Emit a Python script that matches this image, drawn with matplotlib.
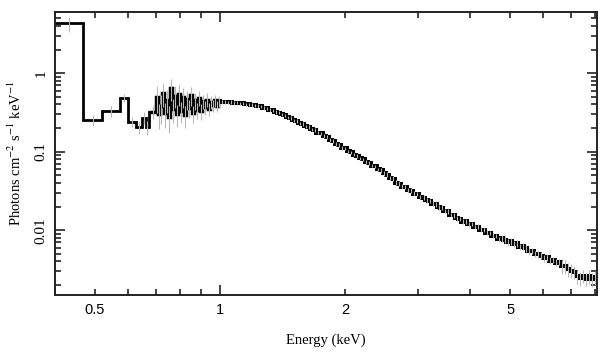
import numpy as np
import matplotlib.pyplot as plt
from matplotlib.ticker import FixedLocator, FuncFormatter, NullFormatter

# coarse low-energy bins (keV) and their flux
coarse_edges = [0.40, 0.468, 0.520, 0.573, 0.601, 0.628, 0.647, 0.662, 0.674, 0.702]
coarse_flux = [4.3, 0.254, 0.33, 0.49, 0.24, 0.207, 0.272, 0.207, 0.32]
coarse_err = [0.22, 0.17, 0.15, 0.12, 0.15, 0.18, 0.17, 0.20, 0.18]

# noisy part 0.70 - 1.0 keV
noisy_flux = [0.50, 0.30, 0.38, 0.56, 0.31, 0.46, 0.28, 0.64, 0.35, 0.52,
              0.30, 0.55, 0.33, 0.50, 0.29, 0.47, 0.36, 0.53, 0.31, 0.45,
              0.34, 0.49, 0.33, 0.44, 0.37, 0.46, 0.35, 0.43, 0.39, 0.45,
              0.38, 0.44]
noisy_err = [0.38, 0.36, 0.40, 0.34, 0.36, 0.33, 0.38, 0.30, 0.34, 0.31,
             0.32, 0.30, 0.30, 0.28, 0.30, 0.27, 0.26, 0.27, 0.25, 0.24,
             0.24, 0.22, 0.23, 0.21, 0.20, 0.20, 0.19, 0.18, 0.17, 0.17,
             0.16, 0.15]

# smooth part 1.0 - 8.1 keV
smooth_flux = [0.429, 0.433, 0.424, 0.428, 0.419, 0.423, 0.414, 0.412, 0.403, 0.401,
               0.392, 0.391, 0.382, 0.378, 0.362, 0.357, 0.341, 0.336, 0.320, 0.315,
               0.298, 0.291, 0.274, 0.268, 0.251, 0.246, 0.231, 0.226, 0.211, 0.206,
               0.193, 0.190, 0.175, 0.172, 0.158, 0.154, 0.141, 0.137, 0.125, 0.122,
               0.112, 0.110, 0.101, 0.0985, 0.0915, 0.0885, 0.0820, 0.0800, 0.0740, 0.0720,
               0.0665, 0.0650, 0.0598, 0.0580, 0.0528, 0.0510, 0.0462, 0.0452, 0.0405, 0.0393,
               0.0360, 0.0355, 0.0324, 0.0320, 0.0293, 0.0290, 0.0265, 0.0260, 0.0240, 0.0236,
               0.0217, 0.0214, 0.0196, 0.0194, 0.0176, 0.0174, 0.0157, 0.0156, 0.0141, 0.0139,
               0.0128, 0.0130, 0.0119, 0.0120, 0.0110, 0.0111, 0.0102, 0.0102, 0.00935, 0.00925,
               0.00850, 0.00845, 0.00770, 0.00790, 0.00760, 0.00700, 0.00720, 0.00670, 0.00680, 0.00615,
               0.00625, 0.00590, 0.00540, 0.00545, 0.00500, 0.00495, 0.00475, 0.00440, 0.00450, 0.00410,
               0.00420, 0.00385, 0.00395, 0.00345, 0.00350, 0.00320, 0.00305, 0.00295, 0.00260, 0.00245,
               0.00262, 0.00240, 0.00258, 0.00238, 0.00250]
smooth_err = [0.05] * 53 + [0.07] * 40 + [0.10] * 20 + [0.20] * 12

x_labels = [0.5, 2, 5]


def main():
    plt.rcParams['mathtext.fontset'] = 'stix'
    noisy_edges = np.geomspace(0.702, 1.0, len(noisy_flux) + 1)
    smooth_edges = np.geomspace(1.0, 8.08, len(smooth_flux) + 1)
    edges = np.concatenate([coarse_edges, noisy_edges[1:], smooth_edges[1:]])
    flux = np.array(coarse_flux + noisy_flux + smooth_flux)
    err = np.array(coarse_err + noisy_err + smooth_err)
    centers = np.sqrt(edges[:-1] * edges[1:])

    fig = plt.figure(figsize=(6.09, 3.57), dpi=100)
    ax = fig.add_axes([0.090, 0.174, 0.890, 0.792])
    ax.vlines(centers, flux * (1 - err), flux * (1 + err), color='#b8b8b8', lw=0.8)
    ax.stairs(coarse_flux, coarse_edges, baseline=None, color='black', lw=2.0)
    # each piece starts with the last bin of the previous one so the steps join up
    ax.stairs([coarse_flux[-1]] + noisy_flux, np.concatenate([[coarse_edges[-2]], noisy_edges]),
              baseline=None, color='black', lw=2.5)
    ax.stairs([noisy_flux[-1]] + smooth_flux, np.concatenate([[noisy_edges[-2]], smooth_edges]),
              baseline=None, color='black', lw=2.9)

    ax.set_xscale('log')
    ax.set_yscale('log')
    ax.set_xlim(0.40, 8.08)
    ax.set_ylim(0.0015, 6)

    ax.xaxis.set_major_locator(FixedLocator([1]))
    ax.xaxis.set_minor_locator(FixedLocator([0.4, 0.5, 0.6, 0.7, 0.8, 0.9, 2, 3, 4, 5, 6, 7, 8]))
    ax.xaxis.set_major_formatter(FuncFormatter(lambda v, p: '1'))
    ax.xaxis.set_minor_formatter(FuncFormatter(lambda v, p: ('%g' % v) if any(abs(v - l) < 1e-6 for l in x_labels) else ''))
    ax.yaxis.set_major_locator(FixedLocator([0.01, 0.1, 1]))
    ax.yaxis.set_major_formatter(FuncFormatter(lambda v, p: '%g' % v))
    ax.yaxis.set_minor_formatter(NullFormatter())

    for sp in ax.spines.values():
        sp.set_linewidth(1.4)
        sp.set_color('#222222')
    ax.tick_params(which='both', direction='in', top=True, right=True, color='#222222', width=1.2)
    ax.tick_params(which='major', length=7)
    ax.tick_params(which='minor', length=4)
    ax.tick_params(axis='x', which='both', pad=6, labelsize=10.5)
    ax.tick_params(axis='y', which='both', pad=5, labelsize=11)
    for lab in ax.get_xticklabels(which='both'):
        lab.set_family('Liberation Sans')
    for lab in ax.get_yticklabels():
        lab.set_family('Liberation Serif')
        lab.set_rotation(90)
        lab.set_va('center')

    ax.set_xlabel('Energy (keV)', family='Liberation Serif', fontsize=10.5, labelpad=12)
    ax.set_ylabel(r'Photons cm$^{-2}$ s$^{-1}$ keV$^{-1}$', family='Liberation Serif', fontsize=10.5, labelpad=8)

    fig.savefig('out.png', dpi=100)


if __name__ == '__main__':
    main()
